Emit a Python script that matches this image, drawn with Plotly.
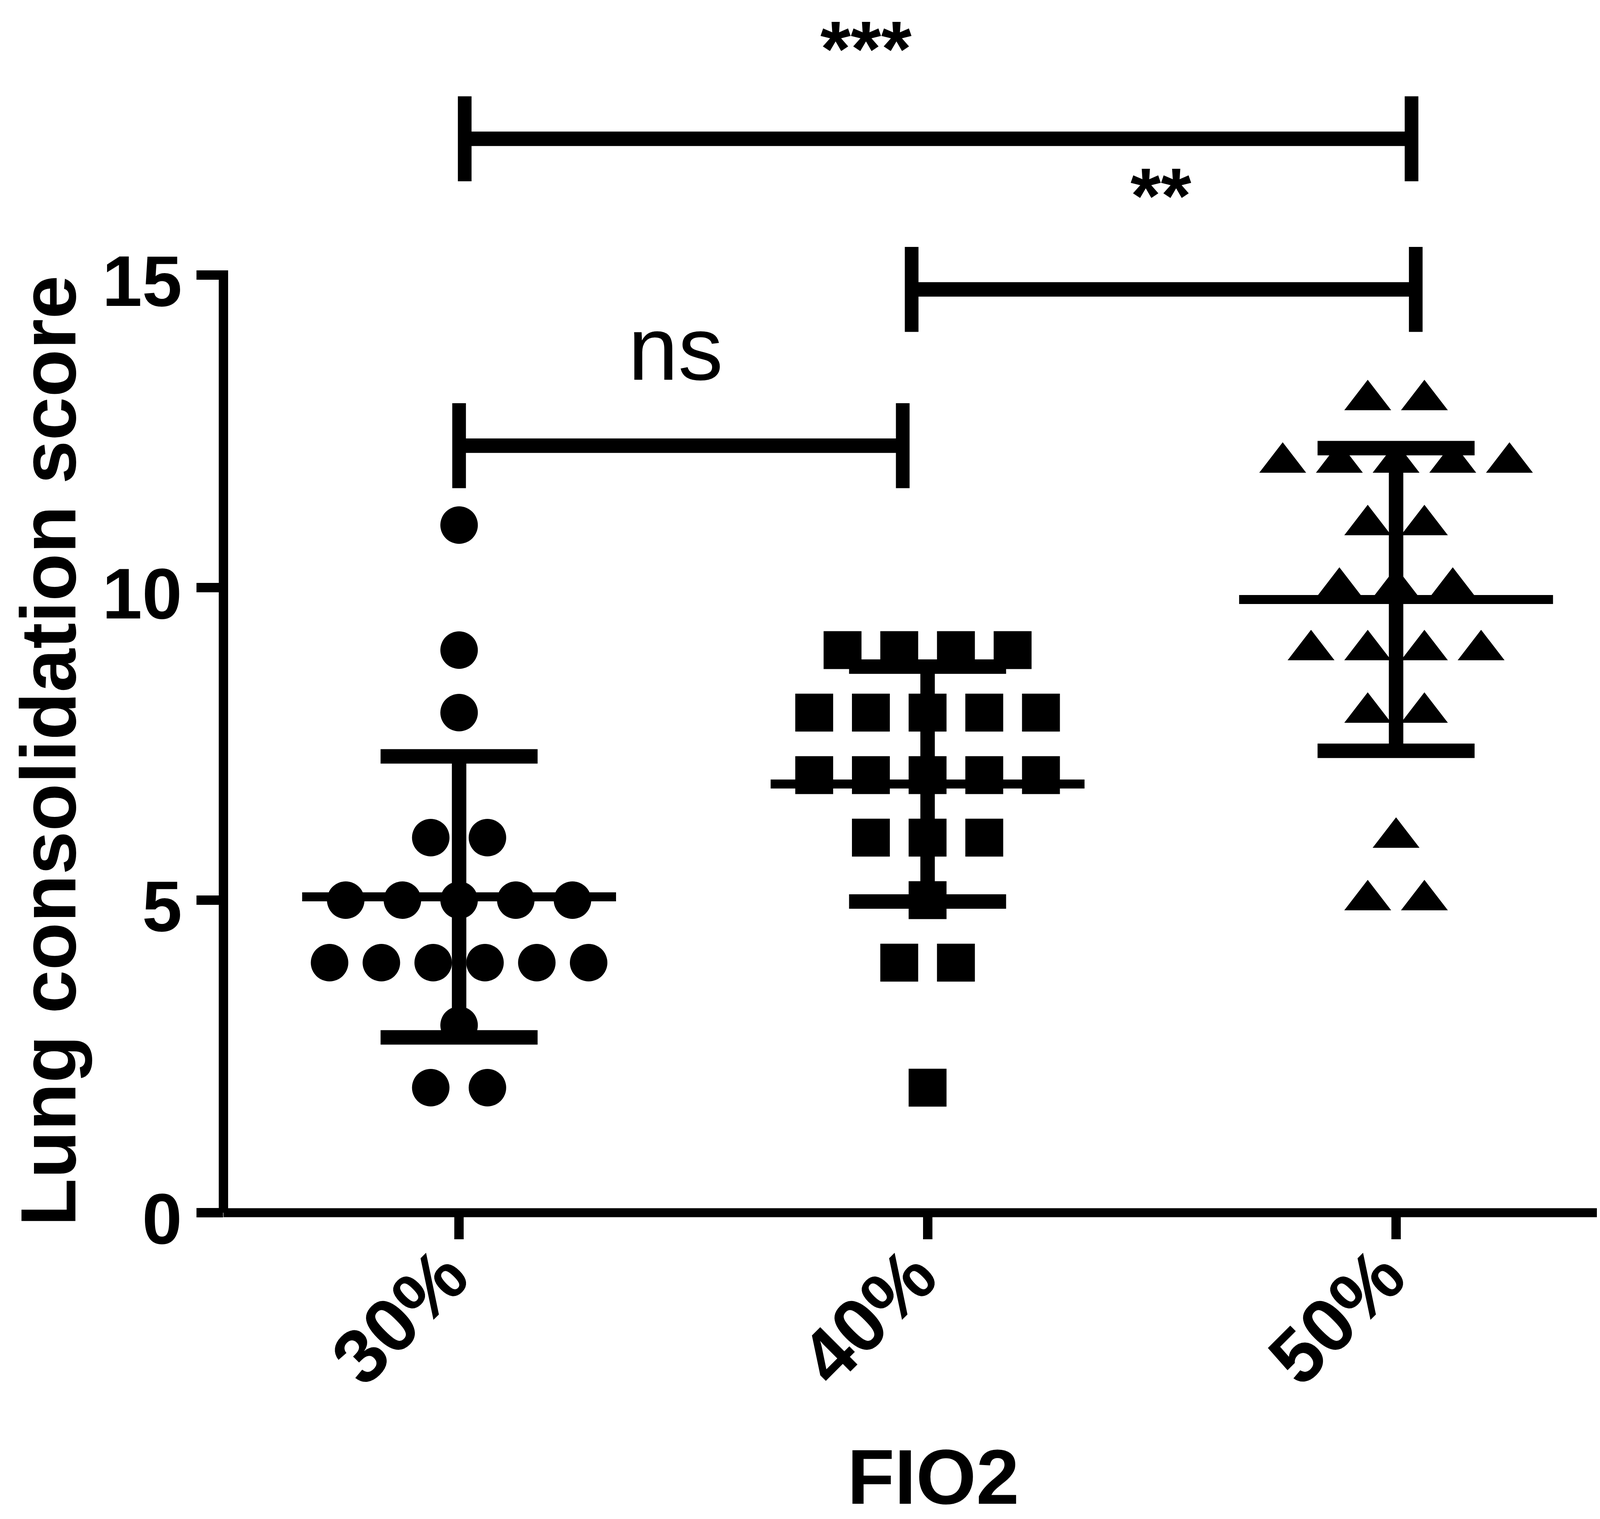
import numpy as np
import plotly.graph_objects as go

# FIO2 groups and lung consolidation scores
categories = ["30%", "40%", "50%"]
score_30 = [11, 9, 8, 6, 6, 5, 5, 5, 5, 5, 4, 4, 4, 4, 4, 4, 3, 2, 2]
score_40 = [9, 9, 9, 9, 8, 8, 8, 8, 8, 7, 7, 7, 7, 7, 6, 6, 6, 5, 4, 4, 2]
score_50 = [13, 13, 12, 12, 12, 12, 12, 11, 11, 10, 10, 10, 9, 9, 9, 9, 8, 8, 6, 5, 5]

# significance brackets (group positions on the category axis)
comp_labels = ["ns", "**", "***"]
comp_x0 = [0.0, 0.966, 0.012]
comp_x1 = [0.947, 2.042, 2.033]
comp_y = [12.27, 14.77, 17.18]
comp_text_x = [0.462, 1.498, 0.869]
comp_text_y = [13.82, 16.27, 18.62]

groups = [score_30, score_40, score_50]
symbols = ["circle", "square", "triangle-up"]
marker_sizes = [96, 97, 104]

FONT = "Liberation Sans, Arial, sans-serif"
PX_PER_UNIT = 160.0
PLOT_H = 3096
Y_TOP = PLOT_H / PX_PER_UNIT


def spread(values, step=0.121, max_width=0.553):
    # column scatter: equal values side by side, centred on the group
    values = np.asarray(values)
    offsets = np.zeros(len(values))
    for v in np.unique(values):
        idx = np.where(values == v)[0]
        n = len(idx)
        if n > 1:
            d = min(step, max_width / (n - 1))
            offsets[idx] = (np.arange(n) - (n - 1) / 2) * d
    return offsets


fig = go.Figure()

for i, vals in enumerate(groups):
    xs = i + spread(vals)
    fig.add_trace(go.Scatter(x=xs, y=vals, mode='markers',
                             marker=dict(symbol=symbols[i], size=marker_sizes[i],
                                         color='black', line=dict(width=0)),
                             hoverinfo='y'))

for i, vals in enumerate(groups):
    m = float(np.mean(vals))
    sd = float(np.std(vals, ddof=1))
    # mean line
    fig.add_trace(go.Scatter(x=[i - 0.335, i + 0.335], y=[m, m], mode='lines',
                             line=dict(color='black', width=23), hoverinfo='none'))
    # SD error bar
    fig.add_trace(go.Scatter(x=[i], y=[m], mode='markers',
                             marker=dict(size=1, color='rgba(0,0,0,0)'),
                             error_y=dict(type='data', array=[sd], visible=True,
                                          color='black', thickness=37, width=201),
                             hoverinfo='none'))

shapes = []
# axis lines
shapes.append(dict(type='line', xref='paper', yref='y', x0=0, x1=0, y0=0, y1=15.075,
                   line=dict(color='black', width=24)))
shapes.append(dict(type='line', xref='paper', yref='paper', x0=0, x1=1, y0=0, y1=0,
                   line=dict(color='black', width=23)))
# brackets
for x0, x1, yb in zip(comp_x0, comp_x1, comp_y):
    h = 0.68
    shapes.append(dict(type='line', xref='x', yref='y', x0=x0, x1=x1, y0=yb, y1=yb,
                       line=dict(color='black', width=37)))
    for xe in (x0, x1):
        shapes.append(dict(type='line', xref='x', yref='y', x0=xe, x1=xe, y0=yb - h, y1=yb + h,
                           line=dict(color='black', width=35)))

annotations = []
for t, tx, ty in zip(comp_labels, comp_text_x, comp_text_y):
    bold = t != "ns"
    annotations.append(dict(text=t, x=tx, y=ty, xref='x', yref='y', showarrow=False,
                            xanchor='center', yanchor='middle',
                            font=dict(family=FONT, size=200 if bold else 230, color='black',
                                      weight='bold' if bold else 'normal')))

annotations.append(dict(text="Lung consolidation score", textangle=-90,
                        x=0, xref='paper', xanchor='center', xshift=-448,
                        y=7.39, yref='y', yanchor='middle', showarrow=False,
                        font=dict(family=FONT, size=200, color='black', weight='bold')))
annotations.append(dict(text="FIO2", x=0.5, xref='paper', xanchor='center',
                        y=0, yref='paper', yanchor='middle', yshift=-676, showarrow=False,
                        font=dict(family=FONT, size=198, color='black', weight='bold')))

fig.update_layout(
    width=4212, height=3888,
    margin=dict(l=564, r=14, t=0, b=3888 - PLOT_H),
    plot_bgcolor='white', paper_bgcolor='white',
    showlegend=False,
    shapes=shapes,
    annotations=annotations,
    xaxis=dict(range=[-0.503, 2.527], tickmode='array', tickvals=[0, 1, 2], ticktext=categories,
               tickangle=-45, ticks='outside', ticklen=67, tickwidth=24, tickcolor='black',
               ticklabelstandoff=-100, ticklabelshift=-35,
               showline=False, showgrid=False, zeroline=False,
               tickfont=dict(family=FONT, size=196, color='black', weight='bold')),
    yaxis=dict(range=[0, Y_TOP], tickmode='array', tickvals=[0, 5, 10, 15],
               ticks='outside', ticklen=68, tickwidth=24, tickcolor='black',
               ticklabelshift=15,
               showline=False, showgrid=False, zeroline=False,
               tickfont=dict(family=FONT, size=184, color='black', weight='bold')),
)

fig.write_html("out.html")
